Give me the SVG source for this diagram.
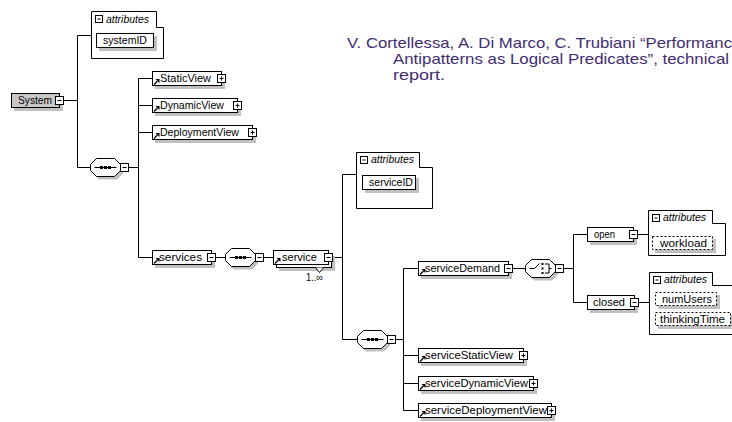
<svg xmlns="http://www.w3.org/2000/svg" xmlns:xlink="http://www.w3.org/1999/xlink" width="732" height="422" viewBox="0 0 732 422">
  <style>
    .ln { fill: none; stroke: #000; stroke-width: 1; }
    .box { fill: #fff; stroke: #000; stroke-width: 1; }
    .root { fill: #c8c8c8; stroke: #000; stroke-width: 1; }
    .shd { fill: #c0c0c0; }
    .att { fill: #fff; stroke: #000; stroke-width: 1; }
    .dash { fill: #fff; stroke: #000; stroke-width: 1; stroke-dasharray: 2 2; }
    .ico { fill: #fff; stroke: #000; stroke-width: 1; }
    .t { font-family: "Liberation Sans", Arial, sans-serif; font-size: 10.5px; fill: #000; }
    .it { font-style: italic; }
    .note { font-family: "Liberation Sans", Arial, sans-serif; font-size: 15px; fill: #3f2d70; }
  </style>
  <defs>
    <!-- reference arrow, placed at the bottom-left corner of a box -->
    <g id="ref">
      <path d="M2,-1.5 L5.5,-5" stroke="#000" stroke-width="1.3" fill="none"/>
      <path d="M3.5,-7 H7.5 V-3 Z" fill="#000"/>
    </g>
    <!-- collapse / expand boxes, centred on (0.5,0.5) of the use point -->
    <g id="minus">
      <rect x="-3.5" y="-3.5" width="8" height="8" class="ico"/>
      <path d="M-1.5,0.5 H2.5" stroke="#000"/>
    </g>
    <g id="plus">
      <rect x="-3.5" y="-3.5" width="8" height="8" class="ico"/>
      <path d="M-1.5,0.5 H2.5 M0.5,-1.5 V2.5" stroke="#000"/>
    </g>
    <g id="minus-s">
      <rect x="0.5" y="0.5" width="7" height="7" class="ico"/>
      <path d="M2.5,4 H5.5" stroke="#000"/>
    </g>
    <!-- compositor outline, 30 x 18, origin at left/top -->
    <path id="oct" d="M6,0 H24 L30,6 V12 L24,18 H6 L0,12 V6 Z"/>
    <!-- sequence symbol -->
    <g id="seqsym">
      <path d="M4,9 H26" stroke="#000"/>
      <rect x="9.5" y="7.5" width="3" height="3" fill="#000"/>
      <rect x="13.5" y="7.5" width="3" height="3" fill="#000"/>
      <rect x="17.5" y="7.5" width="3" height="3" fill="#000"/>
    </g>
    <!-- choice symbol -->
    <g id="chosym">
      <path d="M4,9 H9 L14,4" stroke="#000" fill="none"/>
      <rect x="16" y="3.5" width="2" height="2" fill="#000"/>
      <rect x="16" y="8" width="2" height="2" fill="#000"/>
      <rect x="16" y="12.5" width="2" height="2" fill="#000"/>
      <path d="M19.5,4.5 H23.5 V13.5 H19.5 M23.5,9 H26" stroke="#000" fill="none"/>
    </g>
  </defs>

  <rect width="732" height="422" fill="#fff"/>

  <!-- citation -->
  <g id="citation">
    <text class="note" x="347" y="48" textLength="385" lengthAdjust="spacingAndGlyphs">V. Cortellessa, A. Di Marco, C. Trubiani “Performanc</text>
    <text class="note" x="393" y="64" textLength="336" lengthAdjust="spacingAndGlyphs">Antipatterns as Logical Predicates”, technical</text>
    <text class="note" x="393" y="80" textLength="52" lengthAdjust="spacingAndGlyphs">report.</text>
  </g>

  <!-- connectors -->
  <g id="connectors" class="ln">
    <path d="M63.5,100.5 H77.5 M77.5,35.5 V167.5 M77.5,35.5 H91.5 M77.5,167.5 H90.5"/>
    <path d="M128.5,167.5 H138.5 M138.5,78.5 V257.5 M138.5,78.5 H152.5 M138.5,105.5 H152.5 M138.5,132.5 H152.5 M138.5,257.5 H152.5"/>
    <path d="M215.5,257.5 H225.5 M263.5,257.5 H273.5 M332.5,257.5 H342.5"/>
    <path d="M342.5,174.5 V339.5 M342.5,174.5 H356.5 M342.5,339.5 H357.5"/>
    <path d="M395.5,339.5 H403.5 M403.5,268.5 V410.5 M403.5,268.5 H418.5 M403.5,355.5 H418.5 M403.5,383.5 H418.5 M403.5,410.5 H418.5"/>
    <path d="M512.5,268.5 H525.5 M563.5,268.5 H573.5 M573.5,234.5 V302.5 M573.5,234.5 H587.5 M573.5,302.5 H587.5"/>
    <path d="M637.5,234.5 H648.5 M638.5,302.5 H649.5"/>
  </g>

  <!-- System -->
  <g id="system">
    <rect class="shd" x="14" y="96" width="49" height="15"/>
    <rect class="root" x="11.5" y="93.5" width="48" height="14"/>
    <text class="t" x="18" y="104" textLength="34" lengthAdjust="spacingAndGlyphs">System</text>
    <use xlink:href="#minus" x="59" y="100"/>
  </g>

  <!-- System attributes -->
  <g id="system-attributes">
    <path class="att" d="M91.5,11.5 H156.5 V27.5 H163.5 V58.5 H91.5 Z"/>
    <use xlink:href="#minus-s" x="95" y="15"/>
    <text class="t it" x="106" y="22.5" textLength="43" lengthAdjust="spacingAndGlyphs">attributes</text>
    <rect class="shd" x="99" y="36" width="58" height="15"/>
    <rect class="box" x="96.5" y="33.5" width="57" height="14"/>
    <text class="t" x="103" y="44" textLength="44" lengthAdjust="spacingAndGlyphs">systemID</text>
  </g>

  <!-- sequence under System -->
  <g id="system-sequence">
    <use xlink:href="#oct" x="93" y="161.5" fill="#c0c0c0"/>
    <use xlink:href="#oct" x="90.5" y="158.5" fill="#fff" stroke="#000"/>
    <use xlink:href="#seqsym" x="90.5" y="158.5"/>
    <use xlink:href="#minus" x="124" y="167"/>
  </g>

  <g id="static-view">
    <rect class="shd" x="155" y="74" width="70" height="15"/>
    <rect class="box" x="152.5" y="71.5" width="69" height="14"/>
    <use xlink:href="#ref" x="152" y="86"/>
    <text class="t" x="160" y="82" textLength="51" lengthAdjust="spacingAndGlyphs">StaticView</text>
    <use xlink:href="#plus" x="221" y="78"/>
  </g>

  <g id="dynamic-view">
    <rect class="shd" x="155" y="101" width="86" height="15"/>
    <rect class="box" x="152.5" y="98.5" width="85" height="14"/>
    <use xlink:href="#ref" x="152" y="113"/>
    <text class="t" x="160" y="109" textLength="64" lengthAdjust="spacingAndGlyphs">DynamicView</text>
    <use xlink:href="#plus" x="237" y="105"/>
  </g>

  <g id="deployment-view">
    <rect class="shd" x="155" y="128" width="101" height="15"/>
    <rect class="box" x="152.5" y="125.5" width="100" height="14"/>
    <use xlink:href="#ref" x="152" y="140"/>
    <text class="t" x="160" y="136" textLength="79" lengthAdjust="spacingAndGlyphs">DeploymentView</text>
    <use xlink:href="#plus" x="252" y="132"/>
  </g>

  <g id="services">
    <rect class="shd" x="155" y="253" width="60" height="15"/>
    <rect class="box" x="152.5" y="250.5" width="59" height="14"/>
    <use xlink:href="#ref" x="152" y="265"/>
    <text class="t" x="159" y="261" textLength="43" lengthAdjust="spacingAndGlyphs">services</text>
    <use xlink:href="#minus" x="211" y="257"/>
  </g>

  <g id="services-sequence">
    <use xlink:href="#oct" x="228" y="251.5" fill="#c0c0c0"/>
    <use xlink:href="#oct" x="225.5" y="248.5" fill="#fff" stroke="#000"/>
    <use xlink:href="#seqsym" x="225.5" y="248.5"/>
    <use xlink:href="#minus" x="259" y="257"/>
  </g>

  <g id="service">
    <rect class="shd" x="279" y="256" width="56" height="15"/>
    <rect class="box" x="276.5" y="253.5" width="55" height="14"/>
    <rect class="box" x="273.5" y="250.5" width="55" height="14"/>
    <path class="box" d="M315.5,267.5 L319.5,272.5 L323.5,267.5"/>
    <use xlink:href="#ref" x="273" y="265"/>
    <text class="t" x="282" y="261" textLength="35" lengthAdjust="spacingAndGlyphs">service</text>
    <use xlink:href="#minus" x="328" y="257"/>
    <text class="t" x="306" y="281" font-size="9" textLength="17" lengthAdjust="spacingAndGlyphs">1..∞</text>
  </g>

  <g id="service-attributes">
    <path class="att" d="M356.5,152.5 H419.5 V167.5 H432.5 V208.5 H356.5 Z"/>
    <use xlink:href="#minus-s" x="360" y="156"/>
    <text class="t it" x="371" y="163" textLength="43" lengthAdjust="spacingAndGlyphs">attributes</text>
    <rect class="shd" x="365" y="178" width="54" height="15"/>
    <rect class="box" x="362.5" y="175.5" width="53" height="14"/>
    <text class="t" x="369" y="186" textLength="44" lengthAdjust="spacingAndGlyphs">serviceID</text>
  </g>

  <g id="service-sequence">
    <use xlink:href="#oct" x="360" y="333.5" fill="#c0c0c0"/>
    <use xlink:href="#oct" x="357.5" y="330.5" fill="#fff" stroke="#000"/>
    <use xlink:href="#seqsym" x="357.5" y="330.5"/>
    <use xlink:href="#minus" x="391" y="339"/>
  </g>

  <g id="service-demand">
    <rect class="shd" x="421" y="264" width="91" height="15"/>
    <rect class="box" x="418.5" y="261.5" width="90" height="14"/>
    <use xlink:href="#ref" x="418" y="276"/>
    <text class="t" x="425" y="272" textLength="75" lengthAdjust="spacingAndGlyphs">serviceDemand</text>
    <use xlink:href="#minus" x="508" y="268"/>
  </g>

  <g id="demand-choice">
    <use xlink:href="#oct" x="528" y="262.5" fill="#c0c0c0"/>
    <use xlink:href="#oct" x="525.5" y="259.5" fill="#fff" stroke="#000"/>
    <use xlink:href="#chosym" x="525.5" y="259.5"/>
    <use xlink:href="#minus" x="559" y="268"/>
  </g>

  <g id="open">
    <rect class="shd" x="590" y="230" width="47" height="15"/>
    <rect class="box" x="587.5" y="227.5" width="46" height="14"/>
    <text class="t" x="594" y="238" textLength="21" lengthAdjust="spacingAndGlyphs">open</text>
    <use xlink:href="#minus" x="633" y="234"/>
  </g>

  <g id="open-attributes">
    <path class="att" d="M648.5,210.5 H712.5 V223.5 H725.5 V255.5 H648.5 Z"/>
    <use xlink:href="#minus-s" x="652" y="214"/>
    <text class="t it" x="663" y="221" textLength="43" lengthAdjust="spacingAndGlyphs">attributes</text>
    <rect class="shd" x="655" y="239" width="61" height="14"/>
    <rect class="dash" x="652.5" y="236.5" width="60" height="13"/>
    <text class="t" x="660" y="246.5" textLength="47" lengthAdjust="spacingAndGlyphs">workload</text>
  </g>

  <g id="closed">
    <rect class="shd" x="590" y="298" width="48" height="15"/>
    <rect class="box" x="587.5" y="295.5" width="47" height="14"/>
    <text class="t" x="593" y="306" textLength="32" lengthAdjust="spacingAndGlyphs">closed</text>
    <use xlink:href="#minus" x="634" y="302"/>
  </g>

  <g id="closed-attributes">
    <path class="att" d="M649.5,272.5 H712.5 V285.5 H740 V334.5 H649.5 Z"/>
    <use xlink:href="#minus-s" x="653" y="276"/>
    <text class="t it" x="664" y="283" textLength="43" lengthAdjust="spacingAndGlyphs">attributes</text>
    <rect class="shd" x="658" y="295" width="62" height="14"/>
    <rect class="dash" x="655.5" y="292.5" width="61" height="13"/>
    <text class="t" x="662" y="302.5" textLength="50" lengthAdjust="spacingAndGlyphs">numUsers</text>
    <rect class="shd" x="658" y="315" width="76" height="14"/>
    <rect class="dash" x="655.5" y="312.5" width="75" height="13"/>
    <text class="t" x="660" y="322.5" textLength="65" lengthAdjust="spacingAndGlyphs">thinkingTime</text>
  </g>

  <g id="service-static-view">
    <rect class="shd" x="421" y="351" width="106" height="15"/>
    <rect class="box" x="418.5" y="348.5" width="105" height="14"/>
    <use xlink:href="#ref" x="418" y="363"/>
    <text class="t" x="425" y="359" textLength="88" lengthAdjust="spacingAndGlyphs">serviceStaticView</text>
    <use xlink:href="#plus" x="523" y="355"/>
  </g>

  <g id="service-dynamic-view">
    <rect class="shd" x="421" y="379" width="116" height="15"/>
    <rect class="box" x="418.5" y="376.5" width="115" height="14"/>
    <use xlink:href="#ref" x="418" y="391"/>
    <text class="t" x="425" y="387" textLength="103" lengthAdjust="spacingAndGlyphs">serviceDynamicView</text>
    <use xlink:href="#plus" x="533" y="383"/>
  </g>

  <g id="service-deployment-view">
    <rect class="shd" x="421" y="406" width="134" height="15"/>
    <rect class="box" x="418.5" y="403.5" width="133" height="14"/>
    <use xlink:href="#ref" x="418" y="418"/>
    <text class="t" x="425" y="414" textLength="122" lengthAdjust="spacingAndGlyphs">serviceDeploymentView</text>
    <use xlink:href="#plus" x="551" y="410"/>
  </g>
</svg>
